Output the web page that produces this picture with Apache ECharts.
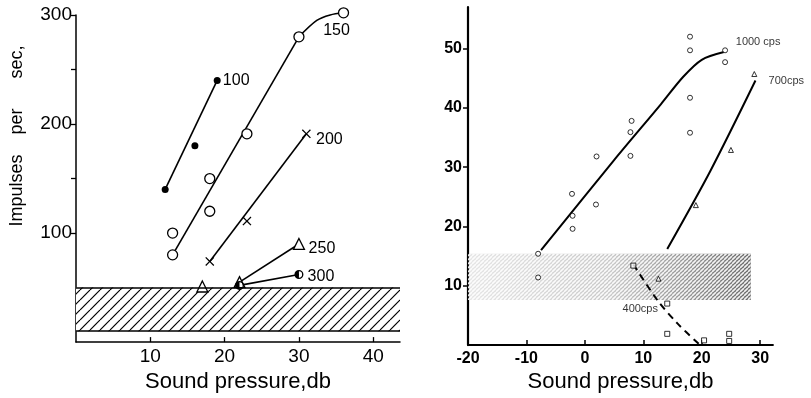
<!DOCTYPE html>
<html>
<head>
<meta charset="utf-8">
<script src="https://cdn.jsdelivr.net/npm/echarts@6/dist/echarts.min.js"></script>
<style>
html, body { margin: 0; padding: 0; background: #fff; }
#chart { width: 811px; height: 398px; }
</style>
</head>
<body>
<div id="chart"></div>
<script>
// ---- left panel: impulses per sec vs sound pressure, one set per tone (cps)
const dots100 = [[12, 140], [16, 180], [19, 240]]
const line100 = [[12, 140], [19, 240]]
const rings150 = [[13, 80], [13, 100], [18, 120], [18, 150], [23, 191], [30, 280], [36, 302]]
const line150 = [[13, 80], [30, 280]]
const curve150 = [[30, 280], [32.4, 295], [34.2, 300], [36, 302]]
const cross200 = [[18, 74], [23, 111], [31, 191]]
const line200 = [[18, 74], [31, 191]]
const tri250 = [[17, 51], [22, 55], [30, 90]]
const line250 = [[22, 55], [30, 90]]
const half300 = [[22, 52], [30, 62]]
const leftBand = [10, 50]
const leftXTicks = [10, 20, 30, 40]
const leftYLabels = [100, 200, 300]
const leftYTicks = [100, 150, 200, 250, 300]

// ---- right panel: three tones, scattered points + fitted curves
const pts1000 = [[18, 52], [18, 49.7], [24, 49.7], [24, 47.7], [18, 41.7], [18, 35.8], [8, 37.8], [7.8, 35.9],
  [7.8, 31.9], [2, 31.8], [-2.2, 25.5], [-2.1, 21.8], [-2.1, 19.6], [1.9, 23.7], [-8, 15.4], [-8, 11.4]]
const curve1000 = [[-7.5, 16], [5, 31.2], [13, 40.6], [16.8, 45.2], [20, 48.1], [23.8, 49.4]]
const pts700 = [[29, 45.7], [25, 32.9], [19, 23.6], [12.6, 11.2]]
const curve700 = [[14.1, 16.2], [21.5, 29.4], [29.2, 44.6]]
const pts400 = [[8.3, 13.4], [14.1, 7], [14.1, 1.9], [20.4, 0.8], [24.7, 1.9], [24.7, 0.7]]
const curve400 = [[8.3, 13.6], [12.4, 7.6], [15.8, 3.7], [19.5, 0.2]]
const rightBand = [[-20, 7.6], [28.4, 15.4]]
const rightXTicks = [-20, -10, 0, 10, 20, 30]
const rightYTicks = [10, 20, 30, 40, 50]

const FONT = 'Liberation Sans'

// diagonal hatch tile for the left band
function hatchTile () {
  const c = document.createElement('canvas')
  c.width = 10; c.height = 10
  const g = c.getContext('2d')
  g.fillStyle = '#fff'; g.fillRect(0, 0, 10, 10)
  g.strokeStyle = '#000'; g.lineWidth = 1.2
  ;[[-10, 10], [0, 10], [10, 10]].forEach(([x0, y0]) => {
    g.beginPath(); g.moveTo(x0, y0); g.lineTo(x0 + 10, y0 - 10); g.stroke()
  })
  return c
}
// white stripes laid over the grey gradient of the right band
function stripeTile () {
  const c = document.createElement('canvas')
  c.width = 4; c.height = 4
  const g = c.getContext('2d')
  g.strokeStyle = 'rgba(255,255,255,0.9)'; g.lineWidth = 1.6
  ;[[-4, 4], [0, 4], [4, 4]].forEach(([x0, y0]) => {
    g.beginPath(); g.moveTo(x0, y0); g.lineTo(x0 + 4, y0 - 4); g.stroke()
  })
  return c
}

function tagged (points, idx, text, offset, size) {
  return points.map((p, i) => i !== idx ? p : {
    value: p,
    label: { show: true, formatter: text, position: 'inside', offset, fontSize: size, fontFamily: FONT, color: '#000' }
  })
}

const halfRing = 'path://M5,0A5,5 0 1,1 5,10A5,5 0 1,1 5,0ZM5,8.5A3.5,3.5 0 0,0 5,1.5Z'
const cross = 'path://M0,1L1,0L5,4L9,0L10,1L6,5L10,9L9,10L5,6L1,10L0,9L4,5Z'

const lineL = (data, smooth) => ({
  type: 'line', xAxisIndex: 0, yAxisIndex: 0, data, symbol: 'none', smooth: smooth || false,
  lineStyle: { color: '#000', width: 1.6 }, silent: true, clip: false, z: 2
})
const lineR = (data, dashed) => ({
  type: 'line', xAxisIndex: 1, yAxisIndex: 1, data, symbol: 'none', smooth: 0.3,
  lineStyle: { color: '#000', width: 2, type: dashed ? [7, 5] : 'solid' }, silent: true, clip: false, z: 2
})
const dotsL = (data, symbol, size, fill, border) => ({
  type: 'scatter', xAxisIndex: 0, yAxisIndex: 0, data, symbol, symbolSize: size, clip: false,
  itemStyle: { color: fill, borderColor: '#000', borderWidth: border, opacity: 1 }, silent: true, z: 3
})
const dotsR = (data, symbol) => ({
  type: 'scatter', xAxisIndex: 1, yAxisIndex: 1, data, symbol, symbolSize: 5, clip: false,
  itemStyle: { color: '#fff', borderColor: '#000', borderWidth: 1 }, silent: true, z: 3
})

const axisLine = w => ({ show: true, onZero: false, lineStyle: { color: '#000', width: w } })

const option = {
  animation: false,
  backgroundColor: '#fff',
  grid: [
    { left: 76, top: 15, width: 324, height: 333 },
    { left: 468, top: 7, width: 305, height: 342 }
  ],
  xAxis: [
    {
      gridIndex: 0, type: 'value', min: 0, max: 43.6,
      axisLine: axisLine(1.5), splitLine: { show: false },
      axisTick: { inside: true, length: 5, customValues: leftXTicks, lineStyle: { color: '#000', width: 1.3 } },
      axisLabel: { customValues: leftXTicks, margin: 5, fontSize: 19, fontFamily: FONT, color: '#000' },
      name: 'Sound pressure,db', nameLocation: 'middle', nameGap: 26,
      nameTextStyle: { fontSize: 22, fontFamily: FONT, color: '#000' }
    },
    {
      gridIndex: 1, type: 'value', min: -20, max: 32.2,
      axisLine: axisLine(1.8), splitLine: { show: false },
      axisTick: { inside: true, length: 5, customValues: rightXTicks.slice(1), lineStyle: { color: '#000', width: 1.5 } },
      axisLabel: { customValues: rightXTicks, margin: 5, fontSize: 16, fontWeight: 'bold', fontFamily: FONT, color: '#000' },
      name: 'Sound pressure,db', nameLocation: 'middle', nameGap: 23,
      nameTextStyle: { fontSize: 22, fontFamily: FONT, color: '#000' }
    }
  ],
  yAxis: [
    {
      gridIndex: 0, type: 'value', min: 0, max: 300,
      axisLine: axisLine(1.5), splitLine: { show: false },
      axisTick: { inside: false, length: 5, customValues: leftYTicks, lineStyle: { color: '#000', width: 1.3 } },
      axisLabel: { customValues: leftYLabels, margin: 4, fontSize: 19, fontFamily: FONT, color: '#000' }
    },
    {
      gridIndex: 1, type: 'value', min: 0, max: 57,
      axisLine: axisLine(2.2), splitLine: { show: false },
      axisTick: { inside: false, length: 5, customValues: rightYTicks, lineStyle: { color: '#000', width: 1.5 } },
      axisLabel: { customValues: rightYTicks, margin: 6, fontSize: 16, fontWeight: 'bold', fontFamily: FONT, color: '#000' }
    }
  ],
  graphic: [{
    type: 'text', x: 17, y: 136, rotation: Math.PI / 2, silent: true,
    style: {
      text: 'Impulses    per      sec,', fontSize: 18, fontFamily: FONT, fill: '#000',
      align: 'center', verticalAlign: 'middle', textAlign: 'center', textVerticalAlign: 'middle'
    }
  }],
  series: [
    // left hatched band with its two border lines
    {
      type: 'line', xAxisIndex: 0, yAxisIndex: 0, data: [], silent: true, z: 1,
      markArea: {
        silent: true,
        itemStyle: { color: { image: hatchTile(), repeat: 'repeat' } },
        data: [[{ yAxis: leftBand[0] }, { yAxis: leftBand[1] }]]
      },
      markLine: {
        silent: true, symbol: 'none', label: { show: false },
        lineStyle: { color: '#000', width: 1.5, type: 'solid' },
        data: [{ yAxis: leftBand[0] }, { yAxis: leftBand[1] }]
      }
    },
    lineL(line100), lineL(line150), lineL(curve150, 0.3), lineL(line200), lineL(line250),
    lineL([half300[0], half300[1]]),
    dotsL(tagged(dots100, 2, '100', [19, 0], 16), 'circle', 7, '#000', 0),
    dotsL(tagged(rings150, 6, '150', [-7, 18], 16), 'circle', 10, '#fff', 1.3),
    dotsL(tagged(cross200, 2, '200', [23, 6], 16), cross, 9, '#000', 0),
    dotsL(tagged(tri250, 2, '250', [23, 5], 16), 'triangle', 11, '#fff', 1.3),
    dotsL(tagged(half300, 1, '300', [22, 2], 16), halfRing, 9, '#000', 0),

    // right shaded band: grey gradient getting darker to the right, striped
    {
      type: 'line', xAxisIndex: 1, yAxisIndex: 1, data: [], silent: true, z: 1,
      markArea: {
        silent: true,
        itemStyle: {
          color: {
            type: 'linear', x: 0, y: 0, x2: 1, y2: 0,
            colorStops: [
              { offset: 0, color: 'rgba(0,0,0,0.10)' },
              { offset: 0.5, color: 'rgba(0,0,0,0.22)' },
              { offset: 1, color: 'rgba(0,0,0,0.6)' }
            ]
          }
        },
        data: [[{ coord: rightBand[0] }, { coord: rightBand[1] }]]
      }
    },
    {
      type: 'line', xAxisIndex: 1, yAxisIndex: 1, data: [], silent: true, z: 1,
      markArea: {
        silent: true,
        itemStyle: { color: { image: stripeTile(), repeat: 'repeat' } },
        data: [[{ coord: rightBand[0] }, { coord: rightBand[1] }]]
      }
    },
    lineR(curve1000), lineR(curve700), lineR(curve400, true),
    dotsR(tagged(pts1000, 2, '1000 cps', [33, -8], 11), 'circle'),
    dotsR(tagged(pts700, 0, '700cps', [32, 7], 11), 'triangle'),
    dotsR(tagged(pts400, 1, '400cps', [-27, 5], 11), 'rect')
  ]
}

const chart = echarts.init(document.getElementById('chart'), null, { renderer: 'canvas' })
chart.setOption(option)
</script>
</body>
</html>
